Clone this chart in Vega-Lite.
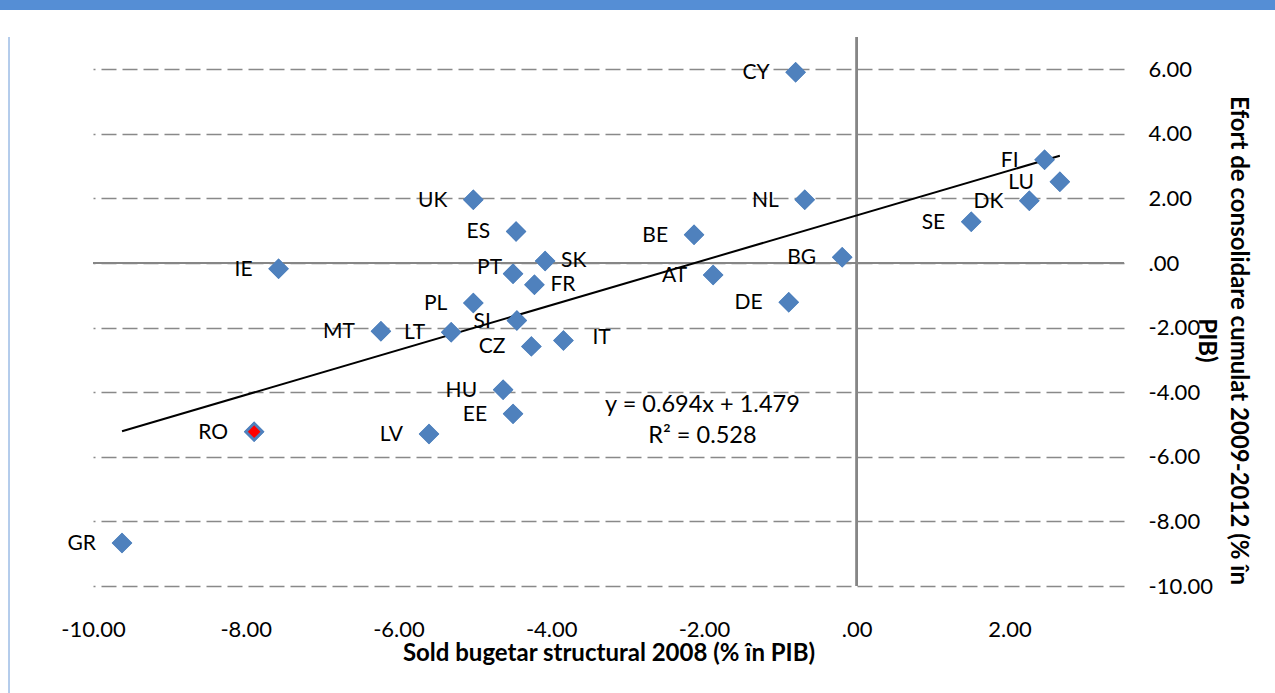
{
  "$schema": "https://vega.github.io/schema/vega-lite/v6.json",
  "background": "white",
  "padding": 0,
  "spacing": 27,
  "bounds": "flush",
  "config": {"font": "Lato", "view": {"stroke": null}},
  "vconcat": [
    {
      "width": 1275,
      "height": 10,
      "data": {"values": [{"band": "top"}]},
      "mark": {"type": "rect", "color": "#558ed5"}
    },
    {
      "spacing": 84,
      "bounds": "flush",
      "hconcat": [
        {
          "width": 9,
          "height": 656,
          "data": {"values": [{"edge": 1}]},
          "mark": {"type": "rule", "color": "#6a9ad8", "strokeWidth": 1},
          "encoding": {
            "x": {"field": "edge", "type": "quantitative", "scale": {"domain": [0, 1]}, "axis": null}
          }
        },
        {
          "width": 1031,
          "height": 549,
          "data": {
            "values": [
              {"country": "AT", "sold": -1.88, "efort": -0.37},
              {"country": "BE", "sold": -2.13, "efort": 0.88},
              {"country": "BG", "sold": -0.19, "efort": 0.18},
              {"country": "CY", "sold": -0.80, "efort": 5.91},
              {"country": "CZ", "sold": -4.26, "efort": -2.58},
              {"country": "DE", "sold": -0.89, "efort": -1.21},
              {"country": "DK", "sold": 2.26, "efort": 1.93},
              {"country": "EE", "sold": -4.50, "efort": -4.67},
              {"country": "ES", "sold": -4.46, "efort": 0.98},
              {"country": "FI", "sold": 2.46, "efort": 3.20},
              {"country": "FR", "sold": -4.22, "efort": -0.67},
              {"country": "GR", "sold": -9.62, "efort": -8.67},
              {"country": "HU", "sold": -4.63, "efort": -3.92},
              {"country": "IE", "sold": -7.57, "efort": -0.18},
              {"country": "IT", "sold": -3.84, "efort": -2.40},
              {"country": "LT", "sold": -5.31, "efort": -2.14},
              {"country": "LU", "sold": 2.66, "efort": 2.52},
              {"country": "LV", "sold": -5.60, "efort": -5.29},
              {"country": "MT", "sold": -6.23, "efort": -2.11},
              {"country": "NL", "sold": -0.68, "efort": 1.96},
              {"country": "PL", "sold": -5.02, "efort": -1.24},
              {"country": "PT", "sold": -4.50, "efort": -0.33},
              {"country": "RO", "sold": -7.89, "efort": -5.22},
              {"country": "SE", "sold": 1.50, "efort": 1.28},
              {"country": "SI", "sold": -4.45, "efort": -1.78},
              {"country": "SK", "sold": -4.08, "efort": 0.06},
              {"country": "UK", "sold": -5.02, "efort": 1.96}
            ]
          },
          "layer": [
            {
              "mark": {"type": "point", "shape": "diamond", "filled": true, "size": 420, "color": "#4f81bd", "opacity": 1},
              "encoding": {
                "x": {
                  "field": "sold", "type": "quantitative",
                  "scale": {"domain": [-10, 3.5], "nice": false, "zero": false},
                  "axis": {
                    "orient": "bottom",
                    "values": [-10, -8, -6, -4, -2, 0, 2],
                    "labelExpr": "datum.value == 0 ? '.00' : (datum.value < 0 ? '-' + format(-datum.value, '.2f') : format(datum.value, '.2f'))",
                    "domain": false, "ticks": false, "grid": false, "labelFlush": false,
                    "labelFontSize": 22, "labelColor": "#000000", "labelPadding": 33,
                    "title": "Sold bugetar structural 2008 (% în PIB)",
                    "titleFontSize": 24, "titleFontWeight": "bold", "titleColor": "#000000", "titlePadding": 1
                  }
                },
                "y": {
                  "field": "efort", "type": "quantitative",
                  "scale": {"domain": [-10, 7], "nice": false, "zero": false},
                  "axis": {
                    "orient": "right",
                    "values": [-10, -8, -6, -4, -2, 0, 2, 4, 6],
                    "labelExpr": "datum.value == 0 ? '.00' : (datum.value < 0 ? '-' + format(-datum.value, '.2f') : format(datum.value, '.2f'))",
                    "domain": false, "ticks": false, "labelFlush": false,
                    "grid": true, "gridDash": [15, 6], "gridColor": "#898989", "gridWidth": 1.5,
                    "labelFontSize": 22, "labelColor": "#000000", "labelPadding": 24,
                    "title": ["Efort de consolidare cumulat 2009-2012 (% în", "PIB)"],
                    "titleAngle": 90, "titleLineHeight": 32, "titleY": 303,
                    "titleFontSize": 24, "titleFontWeight": "bold", "titleColor": "#000000", "titlePadding": -19
                  }
                }
              }
            },
            {
              "mark": {"type": "rule", "color": "#868686", "strokeWidth": 1.5},
              "encoding": {"y": {"datum": 0}}
            },
            {
              "mark": {"type": "rule", "color": "#868686", "strokeWidth": 1.5},
              "encoding": {"x": {"datum": 0}}
            },
            {
              "transform": [{"regression": "efort", "on": "sold"}],
              "mark": {"type": "line", "color": "#000000", "strokeWidth": 2},
              "encoding": {
                "x": {"field": "sold", "type": "quantitative"},
                "y": {"field": "efort", "type": "quantitative"}
              }
            },
            {
              "mark": {"type": "point", "shape": "diamond", "filled": true, "size": 420, "color": "#4f81bd", "opacity": 1},
              "encoding": {
                "x": {"field": "sold", "type": "quantitative"},
                "y": {"field": "efort", "type": "quantitative"}
              }
            },
            {
              "transform": [{"filter": "datum.country == 'RO'"}],
              "mark": {"type": "point", "shape": "diamond", "filled": true, "size": 160, "color": "#ff0000", "opacity": 1},
              "encoding": {
                "x": {"field": "sold", "type": "quantitative"},
                "y": {"field": "efort", "type": "quantitative"}
              }
            },
            {
              "transform": [{"filter": "indexof(['SK','FR','IT','PT'], datum.country) < 0"}],
              "mark": {"type": "text", "align": "right", "baseline": "middle", "dx": -26, "dy": 1, "fontSize": 21, "color": "#000000"},
              "encoding": {
                "x": {"field": "sold", "type": "quantitative"},
                "y": {"field": "efort", "type": "quantitative"},
                "text": {"field": "country"}
              }
            },
            {
              "transform": [{"filter": "datum.country == 'PT'"}],
              "mark": {"type": "text", "align": "right", "baseline": "middle", "dx": -11, "dy": -6, "fontSize": 21, "color": "#000000"},
              "encoding": {
                "x": {"field": "sold", "type": "quantitative"},
                "y": {"field": "efort", "type": "quantitative"},
                "text": {"field": "country"}
              }
            },
            {
              "transform": [{"filter": "datum.country == 'SK' || datum.country == 'FR'"}],
              "mark": {"type": "text", "align": "left", "baseline": "middle", "dx": 16, "dy": 0, "fontSize": 21, "color": "#000000"},
              "encoding": {
                "x": {"field": "sold", "type": "quantitative"},
                "y": {"field": "efort", "type": "quantitative"},
                "text": {"field": "country"}
              }
            },
            {
              "transform": [{"filter": "datum.country == 'IT'"}],
              "mark": {"type": "text", "align": "left", "baseline": "middle", "dx": 29, "dy": -3, "fontSize": 21, "color": "#000000"},
              "encoding": {
                "x": {"field": "sold", "type": "quantitative"},
                "y": {"field": "efort", "type": "quantitative"},
                "text": {"field": "country"}
              }
            },
            {
              "data": {
                "values": [
                  {"label": "y = 0.694x + 1.479", "sold": -2.02, "efort": -4.38},
                  {"label": "R² = 0.528", "sold": -2.02, "efort": -5.37}
                ]
              },
              "mark": {"type": "text", "align": "center", "baseline": "middle", "fontSize": 23.5, "color": "#000000"},
              "encoding": {
                "x": {"field": "sold", "type": "quantitative"},
                "y": {"field": "efort", "type": "quantitative"},
                "text": {"field": "label"}
              }
            }
          ]
        }
      ]
    }
  ]
}
